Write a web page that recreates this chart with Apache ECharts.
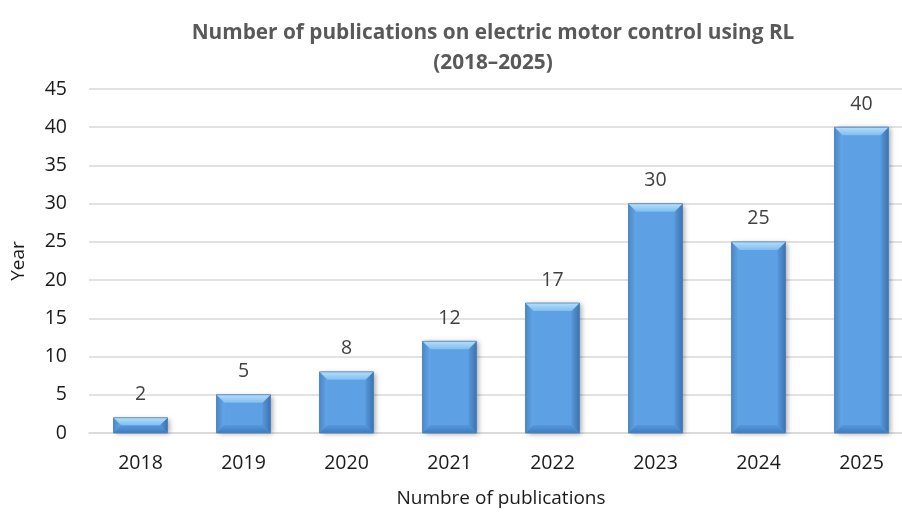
<!DOCTYPE html>
<html><head><meta charset="utf-8">
<style>html,body{margin:0;padding:0;background:#fff}#c{width:902px;height:513px}</style>
<script src="https://cdn.jsdelivr.net/npm/echarts@6/dist/echarts.min.js"></script>
</head><body><div id="c"></div>
<script>
const years = ['2018','2019','2020','2021','2022','2023','2024','2025'];
const publications = [2,5,8,12,17,30,25,40];
const yTicks = {min:0, max:45, interval:5};

const chart = echarts.init(document.getElementById('c'));
const font = '"Open Sans", "Noto Sans", sans-serif';
const BW = 54, BV = 8;

function renderBar(params, api){
  const idx = api.value(0), val = api.value(1);
  const top = api.coord([idx, val]);
  const base = api.coord([idx, 0]);
  const x0 = top[0] - BW/2, x1 = top[0] + BW/2;
  const y0 = top[1], y1 = base[1];
  const h = y1 - y0;
  const b = Math.min(BV, h/2);
  const LG = echarts.graphic.LinearGradient;
  return {
    type:'group',
    children:[
      {type:'rect', shape:{x:x0, y:y0, width:BW, height:h},
       style:{fill:'#5da0e3', shadowColor:'rgba(0,0,0,0.35)', shadowBlur:5, shadowOffsetX:2, shadowOffsetY:1}},
      {type:'polygon', shape:{points:[[x0,y0],[x0+b,y0+b],[x0+b,y1-b],[x0,y1]]},
       style:{fill:new LG(0,0,1,0,[{offset:0,color:'#4a88c8'},{offset:1,color:'#64a7e8'}])}},
      {type:'polygon', shape:{points:[[x1,y0],[x1-b,y0+b],[x1-b,y1-b],[x1,y1]]},
       style:{fill:new LG(0,0,1,0,[{offset:0,color:'#5798da'},{offset:1,color:'#3c73b0'}])}},
      {type:'polygon', shape:{points:[[x0,y1],[x0+b,y1-b],[x1-b,y1-b],[x1,y1]]},
       style:{fill:new LG(0,0,0,1,[{offset:0,color:'#5698dc'},{offset:1,color:'#3f7cc0'}])}},
      {type:'polygon', shape:{points:[[x0,y0],[x1,y0],[x1-b,y0+b],[x0+b,y0+b]]},
       style:{fill:new LG(0,0,0,1,[{offset:0,color:'#b6def9'},{offset:1,color:'#80bef0'}])}},
      {type:'rect', shape:{x:x0, y:y0, width:BW, height:h},
       style:{fill:'none', stroke:'#4a80bd', lineWidth:0.8}}
    ]
  };
}

chart.setOption({
  animation:false,
  title:{
    text:'Number of publications on electric motor control using RL\n(2018–2025)',
    left:488, top:13, textAlign:'center',
    textStyle:{fontFamily:font, fontWeight:'bold', fontSize:20.8, color:'#595959', lineHeight:30}
  },
  grid:{left:89, top:89, width:824, height:344, containLabel:false, outerBoundsMode:'none'},
  xAxis:{
    type:'category', data:years,
    axisLine:{lineStyle:{color:'#d9d9d9', width:1.5}},
    axisTick:{show:false},
    axisLabel:{fontFamily:font, fontSize:19.5, color:'#1a1a1a', margin:20},
    name:'Numbre of publications', nameLocation:'middle', nameGap:56,
    nameTextStyle:{fontFamily:font, fontSize:19, color:'#1a1a1a'}
  },
  yAxis:{
    type:'value', min:yTicks.min, max:yTicks.max, interval:yTicks.interval,
    axisLine:{show:false}, axisTick:{show:false},
    splitLine:{lineStyle:{color:'#d9d9d9', width:1.5}},
    axisLabel:{fontFamily:font, fontSize:19.5, color:'#1a1a1a', margin:22},
    name:'Year', nameLocation:'middle', nameGap:61,
    nameTextStyle:{fontFamily:font, fontSize:19, color:'#1a1a1a'}
  },
  series:[{
    type:'custom', renderItem:renderBar,
    data:publications.map((v,i)=>[i,v]),
    encode:{x:0, y:1}, z:2
  },{
    type:'bar', data:publications, barWidth:BW, z:3,
    itemStyle:{color:'rgba(0,0,0,0)'},
    label:{show:true, position:'top', distance:13, fontFamily:font, fontSize:19.5, color:'#404040'}
  }]
});
</script></body></html>
